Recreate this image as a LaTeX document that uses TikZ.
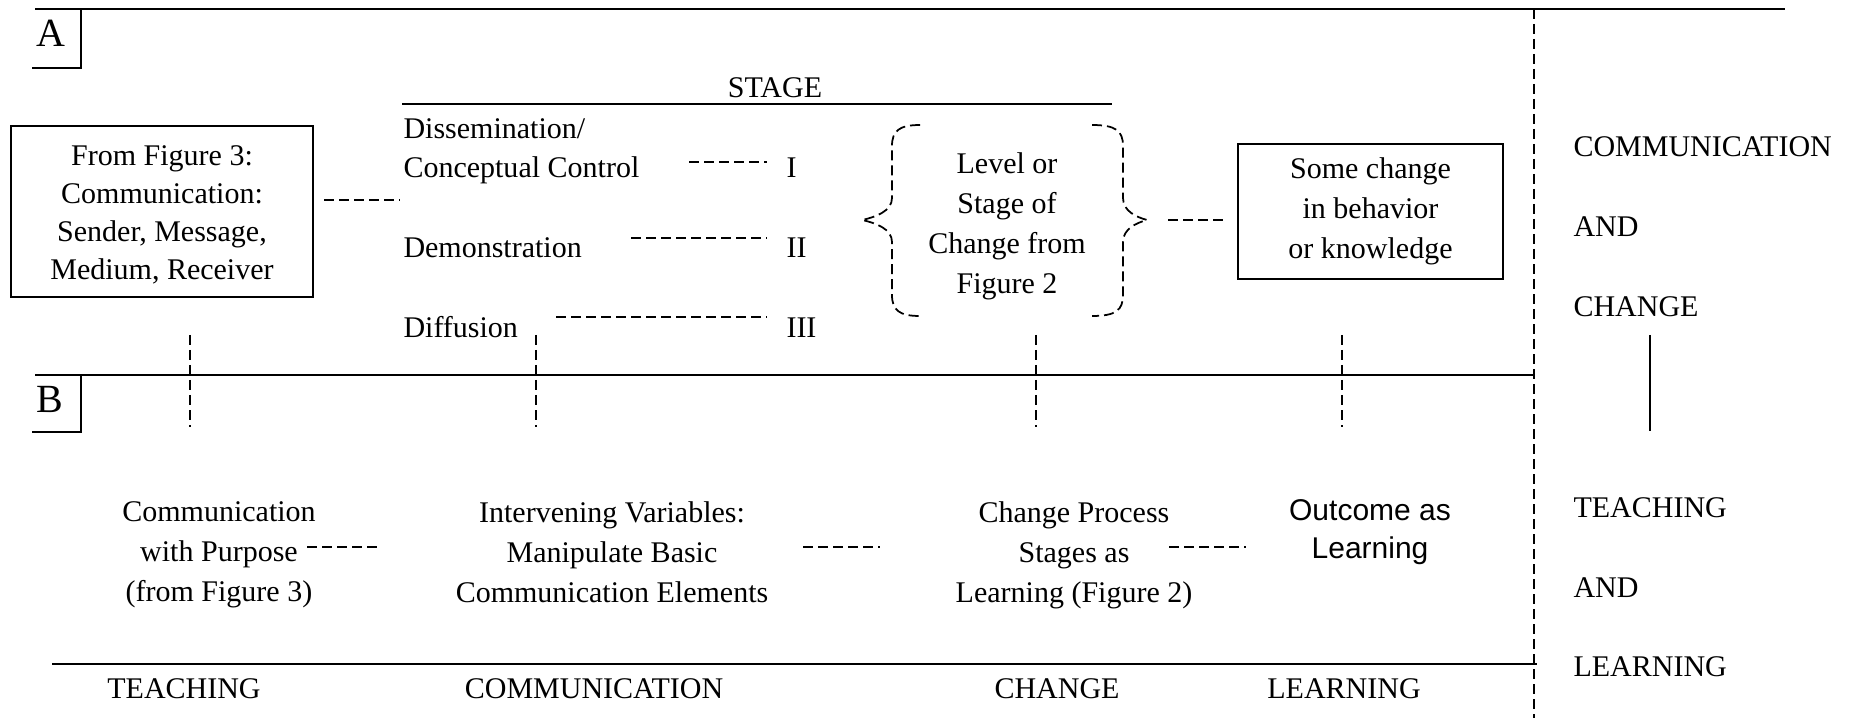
\documentclass[tikz,border=0pt]{standalone}
\usepackage{fontspec}
\setmainfont{Liberation Serif}
\newfontfamily\arialfont{Liberation Sans}
\usetikzlibrary{calc}
\begin{document}
\begin{tikzpicture}[x=0.4pt,y=-0.4pt,
  solidline/.style={line width=0.8pt},
  dline/.style={line width=0.7pt, dash pattern=on 4pt off 2pt},
  lbl/.style={inner sep=0pt, font=\fontsize{12}{14}\selectfont},
  big/.style={inner sep=0pt, font=\fontsize{16}{19}\selectfont},
  txt/.style={inner sep=0pt, align=center, font=\fontsize{12}{16}\selectfont},
  boxstyle/.style={draw, line width=0.8pt, inner sep=0pt, align=center}]
\useasboundingbox (0,0) rectangle (1871,718);
% frame
\draw[solidline] (35,9) -- (1785,9);
\node[big, anchor=base] (A) at (50.5,47) {A};
\draw[solidline] (32,68) -- (81,68) -- (81,9);
\draw[dline] (1534,9) -- (1534,718);
\draw[solidline] (35,375) -- (1534,375);
\node[big, anchor=base] (B) at (49.5,413) {B};
\draw[solidline] (32,432) -- (81,432) -- (81,375);
\draw[solidline] (52,664) -- (1537,664);
\draw[solidline] (1650,335) -- (1650,431);
\foreach \xx in {190,536,1036,1342} \draw[dline] (\xx,335) -- (\xx,427);
% top-left box
\node[boxstyle, minimum width=120.8pt, minimum height=68.4pt] (box1) at (162,211.5) {};
\node[txt, font=\fontsize{12}{15.2}\selectfont] (box1t) at (162,215)
  {From Figure 3:\\Communication:\\Sender, Message,\\Medium, Receiver};
% stage list
\draw[solidline] (402,104) -- (1112,104);
\node[lbl, anchor=base] (stage) at (775,98) {STAGE};
\node[lbl, anchor=base west] (s1a) at (403,139) {Dissemination/};
\node[lbl, anchor=base west] (s1b) at (403,178) {Conceptual Control};
\node[lbl, anchor=base west] (s2) at (403,258) {Demonstration};
\node[lbl, anchor=base west] (s3) at (403,338) {Diffusion};
\node[lbl, anchor=base west] (r1) at (786,178) {I};
\node[lbl, anchor=base west] (r2) at (786,258) {II};
\node[lbl, anchor=base west] (r3) at (786,338) {III};
\draw[dline] ($(box1.east)+(10,-11.5)$) -- ($(s1b.base west)+(-3,22)$);
\draw[dline] ($(r1.base west)+(-97,-16)$) -- ($(r1.base west)+(-19,-16)$);
\draw[dline] ($(r2.base west)+(-155,-20)$) -- ($(r2.base west)+(-19,-20)$);
\draw[dline] ($(r3.base west)+(-230,-21)$) -- ($(r3.base west)+(-19,-21)$);
% brace
\node[txt, font=\fontsize{12}{16}\selectfont] (lev) at (1007,226)
  {Level or\\Stage of\\Change from\\Figure 2};
\coordinate (bL) at (862,220);
\coordinate (bR) at (1147,220);
\draw[dline] (920,125) .. controls (899,125) and (892,131) .. (892,146) -- (892,198)
  .. controls (892,211) and (876,217) .. (bL)
  .. controls (876,223) and (892,229) .. (892,242) -- (892,295)
  .. controls (892,310) and (899,316) .. (920,316);
\draw[dline] (1092,125) .. controls (1116,125) and (1123,131) .. (1123,146) -- (1123,198)
  .. controls (1123,211) and (1136,217) .. (bR)
  .. controls (1136,223) and (1123,229) .. (1123,242) -- (1123,295)
  .. controls (1123,310) and (1116,316) .. (1092,316);
% right box
\node[boxstyle, minimum width=106pt, minimum height=54pt,
  font=\fontsize{12}{16}\selectfont] (box2) at (1370.5,211.5)
  {Some change\\in behavior\\or knowledge};
\draw[dline] ($(bR)+(21,0)$) -- ($(box2.west)+(-10,8.5)$);
% lower row
\node[txt] (cp) at (219,555) {Communication\\with Purpose\\(from Figure 3)};
\node[txt] (iv) at (612,552) {Intervening Variables:\\Manipulate Basic\\Communication Elements};
\node[txt] (ch) at (1074,555) {Change Process\\Stages as\\Learning (Figure 2)};
\node[txt, font=\arialfont\fontsize{12}{15.2}\selectfont] (oc) at (1370,532) {Outcome as\\Learning};
\draw[dline] ($(cp.center)+(88,-8)$) -- ($(cp.center)+(163,-8)$);
\draw[dline] ($(iv.center)+(191,-5)$) -- ($(iv.center)+(268,-5)$);
\draw[dline] ($(ch.center)+(95,-8)$) -- ($(ch.center)+(172,-8)$);
% bottom labels
\node[lbl, anchor=base] (bt) at (184,698) {TEACHING};
\node[lbl, anchor=base] (bc) at (594,698) {COMMUNICATION};
\node[lbl, anchor=base] (bch) at (1057,698) {CHANGE};
\node[lbl, anchor=base] (bl) at (1344,698) {LEARNING};
% right column
\node[lbl, anchor=base west] (rc1) at (1573,157) {COMMUNICATION};
\node[lbl, anchor=base west] (rc2) at (1573,237) {AND};
\node[lbl, anchor=base west] (rc3) at (1573,317) {CHANGE};
\node[lbl, anchor=base west] (rt1) at (1573,517) {TEACHING};
\node[lbl, anchor=base west] (rt2) at (1573,597) {AND};
\node[lbl, anchor=base west] (rt3) at (1573,676) {LEARNING};
\end{tikzpicture}
\end{document}
